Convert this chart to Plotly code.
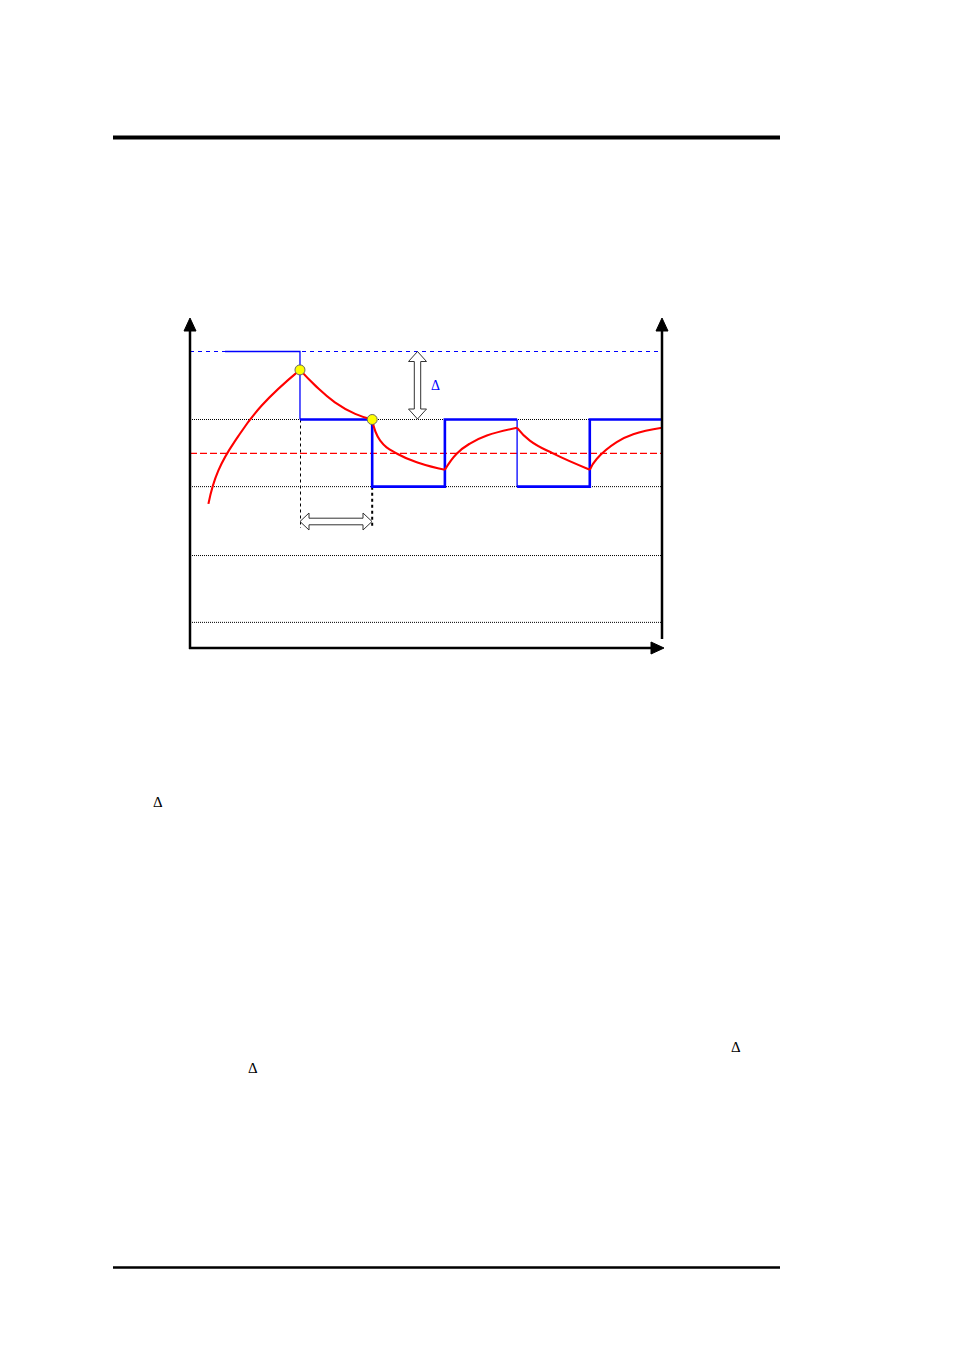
import plotly.graph_objects as go

# levels (arbitrary units, 0 = time axis)
level_top = 100.0       # blue dashed upper limit
level_high = 77.1       # upper switching level
level_mid = 65.7        # red dashed set point
level_low = 54.5        # lower switching level
level_extra = [31.3, 8.8]

# switching times (0 = left axis, 100 = right axis)
t_switch = [23.3, 38.6, 54.0, 69.3, 84.7, 100.0]
t_start = 7.4

# red curve
seg1_x = [3.9, 6.0, 10.2, 15.2, 23.3]
seg1_y = [48.7, 59.9, 71.4, 81.8, 93.8]
seg2_x = [23.3, 26.5, 30.7, 35.0, 38.6]
seg2_y = [93.8, 88.6, 82.9, 79.0, 77.1]
seg3_x = [38.6, 40.3, 44.0, 48.7, 54.0]
seg3_y = [77.1, 70.0, 65.5, 62.4, 60.2]
seg4_x = [54.0, 56.5, 59.3, 62.9, 69.3]
seg4_y = [60.2, 65.6, 69.0, 71.7, 74.3]
seg5_x = [69.3, 72.0, 77.0, 84.7]
seg5_y = [74.3, 70.0, 65.6, 60.2]
seg6_x = [84.7, 86.2, 90.4, 93.9, 100.0]
seg6_y = [60.2, 63.9, 69.5, 72.1, 74.3]

# marked points
dot_x = [23.3, 38.6]
dot_y = [93.8, 77.1]

# page geometry: px per unit, origin pixel, page offset of the plot div
SX, SY = 4.72, 2.97
OX, OY = 190, 648.5
W, H = 954, 1350
PAD = 8


def X(px):
    return (px - OX) / SX


def Y(py):
    return (OY - py) / SY


def path(points):
    return "M " + " L ".join(f"{X(a):.3f},{Y(b):.3f}" for a, b in points) + " Z"


fig = go.Figure()

red_x, red_y = [], []
for sx, sy in [(seg1_x, seg1_y), (seg2_x, seg2_y), (seg3_x, seg3_y),
               (seg4_x, seg4_y), (seg5_x, seg5_y), (seg6_x, seg6_y)]:
    red_x += sx + [None]
    red_y += sy + [None]

# thin parts of the blue output
fig.add_trace(go.Scatter(
    x=[t_start, t_switch[0], t_switch[0], None, t_switch[3], t_switch[3]],
    y=[level_top, level_top, level_high, None, level_high, level_low],
    mode="lines", line=dict(color="#0000ff", width=1.3), hoverinfo="skip"))
# thick parts of the blue output
fig.add_trace(go.Scatter(
    x=[t_switch[0], t_switch[1], t_switch[2], t_switch[3], None,
       t_switch[3], t_switch[4], t_switch[5]],
    y=[level_high, level_low, level_high, level_high, None,
       level_low, level_high, level_high],
    mode="lines", line=dict(color="#0000ff", width=2.6, shape="hv"),
    hoverinfo="skip"))

fig.add_trace(go.Scatter(x=red_x, y=red_y, mode="lines",
                         line=dict(color="#ff0000", width=2.1, shape="spline",
                                   smoothing=1.3),
                         hoverinfo="skip"))
fig.add_trace(go.Scatter(x=dot_x, y=dot_y, mode="markers",
                         marker=dict(size=10, color="#ffff00",
                                     line=dict(color="#666666", width=1)),
                         hoverinfo="skip"))

shapes = []
# level lines
shapes.append(dict(type="line", x0=0, x1=100, y0=level_top, y1=level_top,
                   line=dict(color="#0000ff", width=1.2, dash="4px,4px"), layer="below"))
for lv in [level_high, level_low] + level_extra:
    shapes.append(dict(type="line", x0=0, x1=100, y0=lv, y1=lv,
                       line=dict(color="#000000", width=1, dash="1px,1px"), layer="below"))
shapes.append(dict(type="line", x0=0, x1=100, y0=level_mid, y1=level_mid,
                   line=dict(color="#ff0000", width=1.2, dash="7px,3px"), layer="below"))

# vertical dotted markers of the delay
shapes.append(dict(type="line", x0=X(300.5), x1=X(300.5), y0=level_high, y1=Y(528),
                   line=dict(color="#000000", width=1, dash="3px,3px"), layer="below"))
shapes.append(dict(type="line", x0=t_switch[1], x1=t_switch[1], y0=level_low, y1=Y(528),
                   line=dict(color="#000000", width=2, dash="3px,3px"), layer="below"))

# axes
ax_style = dict(color="#000000", width=2.5)
shapes.append(dict(type="line", x0=X(190), x1=X(190), y0=Y(649), y1=Y(328), line=ax_style))
shapes.append(dict(type="line", x0=X(662), x1=X(662), y0=Y(639), y1=Y(328), line=ax_style))
shapes.append(dict(type="line", x0=X(189), x1=X(653), y0=Y(648), y1=Y(648), line=ax_style))
for tri in ([(190, 318), (184, 331), (196, 331)],
            [(662, 318), (656, 331), (668, 331)],
            [(664, 648), (651, 642), (651, 654)]):
    shapes.append(dict(type="path", path=path(tri), fillcolor="#000000",
                       line=dict(color="#000000", width=1)))

# hollow double arrows
hx0, hx1, hy, hs, hh, hl = 300, 372, 521.5, 3.3, 8.5, 9
shapes.append(dict(type="path", path=path([
    (hx0, hy), (hx0 + hl, hy - hh), (hx0 + hl, hy - hs), (hx1 - hl, hy - hs),
    (hx1 - hl, hy - hh), (hx1, hy), (hx1 - hl, hy + hh), (hx1 - hl, hy + hs),
    (hx0 + hl, hy + hs), (hx0 + hl, hy + hh)]),
    fillcolor="#ffffff", line=dict(color="#333333", width=1)))
vx, vy0, vy1, vs, vh, vl = 417.5, 351.5, 419, 3.2, 9, 10
shapes.append(dict(type="path", path=path([
    (vx, vy0), (vx + vh, vy0 + vl), (vx + vs, vy0 + vl), (vx + vs, vy1 - vl),
    (vx + vh, vy1 - vl), (vx, vy1), (vx - vh, vy1 - vl), (vx - vs, vy1 - vl),
    (vx - vs, vy0 + vl), (vx - vh, vy0 + vl)]),
    fillcolor="#ffffff", line=dict(color="#333333", width=1)))

# page rules
shapes.append(dict(type="line", x0=X(113), x1=X(780), y0=Y(137.5), y1=Y(137.5),
                   line=dict(color="#000000", width=4)))
shapes.append(dict(type="line", x0=X(113), x1=X(780), y0=Y(1267.5), y1=Y(1267.5),
                   line=dict(color="#000000", width=2.5)))

annotations = [
    dict(x=X(435), y=Y(385), text="Δ", showarrow=False,
         font=dict(family="Liberation Serif", size=14, color="#0000ff")),
]
for px, py in [(158, 802), (736, 1047), (253, 1068)]:
    annotations.append(dict(x=X(px), y=Y(py), text="Δ", showarrow=False,
                            font=dict(family="Liberation Serif", size=15, color="#000000")))

fig.update_layout(
    width=W, height=H,
    margin=dict(l=0, r=0, t=0, b=0),
    paper_bgcolor="#ffffff", plot_bgcolor="#ffffff",
    showlegend=False,
    shapes=shapes, annotations=annotations,
    # the page body adds an 8px margin, so shift the visible window to match
    xaxis=dict(range=[X(PAD), X(W + PAD)], visible=False, fixedrange=True),
    yaxis=dict(range=[Y(H + PAD), Y(PAD)], visible=False, fixedrange=True),
)

fig.write_html("out.html")
